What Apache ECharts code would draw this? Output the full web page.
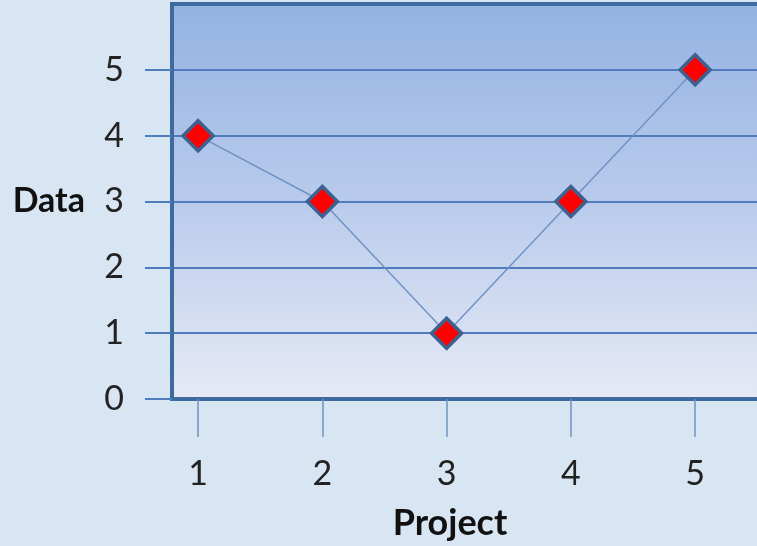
<!DOCTYPE html>
<html>
<head>
<meta charset="utf-8">
<script src="https://cdn.jsdelivr.net/npm/echarts@6/dist/echarts.min.js"></script>
<style>
html,body{margin:0;padding:0;background:#d8e5f2;}
#c{width:757px;height:546px;}
</style>
</head>
<body>
<div id="c"></div>
<script>
var projects = [1, 2, 3, 4, 5];
var dataValues = [4, 3, 1, 3, 5];
var yTicks = [0, 1, 2, 3, 4, 5];

var chart = echarts.init(document.getElementById('c'));
var fontFam = 'Lato, "Open Sans", sans-serif';
chart.setOption({
  backgroundColor: '#d8e5f2',
  animation: false,
  grid: {
    left: 172, top: 4, right: -4, bottom: 147,
    containLabel: false,
    outerBoundsMode: 'none',
    show: true,
    borderColor: '#3d6a9f',
    borderWidth: 4,
    backgroundColor: {
      type: 'linear', x: 0, y: 0, x2: 0, y2: 1,
      colorStops: [
        {offset: 0, color: '#94b2e2'},
        {offset: 0.5, color: '#b9cbec'},
        {offset: 1, color: '#e7eaf5'}
      ]
    }
  },
  xAxis: {
    type: 'value',
    min: 0.79, max: 5.53,
    name: 'Project',
    nameLocation: 'middle',
    nameGap: 106,
    nameTextStyle: {fontFamily: fontFam, fontWeight: 'bold', fontSize: 36, color: '#111', padding: [0, 33, 0, 0]},
    axisLine: {show: true, lineStyle: {color: '#3d6a9f', width: 4}},
    axisTick: {show: true, customValues: projects, length: 38, lineStyle: {color: '#6f93c4', width: 1.5}},
    axisLabel: {customValues: projects, margin: 58, fontFamily: fontFam, fontSize: 34, color: '#222'},
    splitLine: {show: false}
  },
  yAxis: {
    type: 'value',
    min: 0, max: 6, interval: 1,
    name: 'Data',
    nameLocation: 'middle',
    nameRotate: 0,
    nameGap: 87,
    nameTextStyle: {fontFamily: fontFam, fontWeight: 'bold', fontSize: 34, color: '#111', padding: [0, 0, 8, 0]},
    axisLine: {show: true, lineStyle: {color: '#3d6a9f', width: 4}},
    axisTick: {show: true, customValues: yTicks, length: 27, lineStyle: {color: '#4f7dbb', width: 2}},
    axisLabel: {customValues: yTicks, margin: 48, fontFamily: fontFam, fontSize: 34, color: '#222'},
    splitLine: {show: true, lineStyle: {color: '#4f7dbb', width: 2}}
  },
  series: [{
    type: 'line',
    data: projects.map(function (p, i) { return [p, dataValues[i]]; }),
    symbol: 'diamond',
    symbolSize: [30, 30],
    showAllSymbol: true,
    lineStyle: {color: '#6f93c4', width: 1.5},
    itemStyle: {color: '#ff0000', borderColor: '#3e6290', borderWidth: 3.5},
    z: 5
  }]
});
</script>
</body>
</html>
